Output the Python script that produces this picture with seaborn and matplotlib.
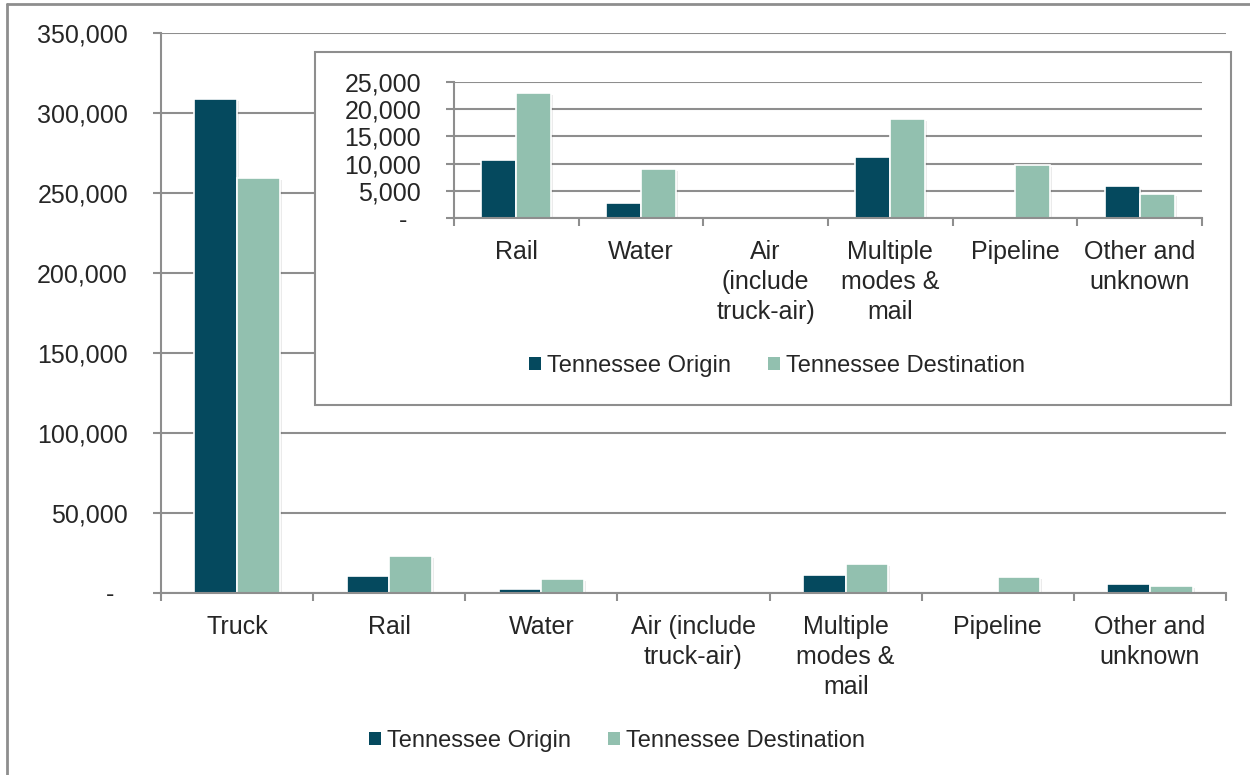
import matplotlib
matplotlib.use("Agg")
import matplotlib.pyplot as plt
import matplotlib.patheffects as pe
from matplotlib.lines import Line2D
from matplotlib.patches import Rectangle, Patch
from matplotlib.ticker import FuncFormatter, MultipleLocator
import pandas as pd
import seaborn as sns

# Freight tonnage by mode (thousand tons)
modes = ["Truck", "Rail", "Water", "Air", "Multiple", "Pipeline", "Other"]
main_labels = ["Truck", "Rail", "Water", "Air (include\ntruck-air)",
               "Multiple\nmodes &\nmail", "Pipeline", "Other and\nunknown"]
inset_labels = ["Rail", "Water", "Air\n(include\ntruck-air)",
                "Multiple\nmodes &\nmail", "Pipeline", "Other and\nunknown"]
origin_tons = [308500, 10600, 2800, 0, 11200, 0, 5800]
destination_tons = [259200, 23000, 9000, 0, 18200, 9800, 4500]
series_names = ["Tennessee Origin", "Tennessee Destination"]
colors = ["#05495E", "#92C0AF"]
grid_gray = "#8E8E8E"

sns.set_theme(style="white")
plt.rcParams["font.family"] = ["Liberation Sans", "DejaVu Sans"]

df = pd.DataFrame({
    "mode": modes * 2,
    "tons": origin_tons + destination_tons,
    "series": [series_names[0]] * len(modes) + [series_names[1]] * len(modes),
})
df_inset = df[df["mode"] != "Truck"]

fig = plt.figure(figsize=(12.5, 7.75), dpi=100)
fig.patch.set_facecolor("white")

W, H = 1250.0, 775.0
TICK_FS = 18
LEGEND_FS = 17


def fig_rect(x0, y0, x1, y1):
    return [x0 / W, 1 - y1 / H, (x1 - x0) / W, (y1 - y0) / H]


shadow = [pe.SimplePatchShadow(offset=(1.5, -1.5), shadow_rgbFace="#000000", alpha=0.08),
          pe.Normal()]


def style_axes(ax, ymax, step, labels):
    ax.set_ylim(0, ymax)
    ax.yaxis.set_major_locator(MultipleLocator(step))
    ax.yaxis.set_major_formatter(
        FuncFormatter(lambda v, p: "{:,.0f}".format(v) if v else "-  "))
    ax.set_xticks(range(len(labels)))
    ax.set_xticklabels(labels, fontsize=TICK_FS, linespacing=1.32, va="top")
    ax.tick_params(axis="y", labelsize=TICK_FS, length=8 * 0.72, width=1.5,
                   color=grid_gray, pad=18, left=True)
    ax.set_xlim(-0.5, len(labels) - 0.5)
    # category ticks sit on the boundaries between groups
    ax.set_xticks([i - 0.5 for i in range(len(labels) + 1)], minor=True)
    ax.tick_params(axis="x", which="major", length=0, pad=16, bottom=True)
    ax.tick_params(axis="x", which="minor", length=8 * 0.72, width=1.5,
                   color=grid_gray, bottom=True)
    ax.grid(axis="y", color=grid_gray, linewidth=1.5)
    ax.grid(axis="x", visible=False)
    ax.set_axisbelow(True)
    for s in ["top", "right"]:
        ax.spines[s].set_visible(False)
    for s in ["left", "bottom"]:
        ax.spines[s].set_color(grid_gray)
        ax.spines[s].set_linewidth(1.5)
    ax.set_xlabel("")
    ax.set_ylabel("")
    for bar in ax.patches:
        bar.set_path_effects(shadow)


# Main chart
ax = fig.add_axes(fig_rect(161, 33, 1226, 593))
ax.set_zorder(0)
sns.barplot(data=df, x="mode", y="tons", hue="series", hue_order=series_names,
            palette=colors, width=0.56, edgecolor="white", linewidth=1.2,
            saturation=1, legend=False, ax=ax)
style_axes(ax, 350000, 50000, main_labels)

# Inset box
box = Rectangle((315 / W, 1 - 405 / H), 916 / W, 353 / H, transform=fig.transFigure,
                facecolor="white", edgecolor=grid_gray, linewidth=1.5, zorder=1)
fig.add_artist(box)

# Inset chart without trucks
axi = fig.add_axes(fig_rect(454, 82, 1202, 218))
axi.set_zorder(2)
axi.patch.set_alpha(0)
sns.barplot(data=df_inset, x="mode", y="tons", hue="series", hue_order=series_names,
            palette=colors, width=0.56, edgecolor="white", linewidth=1.2,
            saturation=1, legend=False, ax=axi)
style_axes(axi, 25000, 5000, inset_labels)

handles = [Patch(facecolor=c, edgecolor="none") for c in colors]
legend_kw = dict(ncol=2, frameon=False, fontsize=LEGEND_FS, handlelength=0.5,
                 handleheight=0.5, handletextpad=0.25, columnspacing=1.6)

leg_i = fig.legend(handles, series_names, loc="center",
                   bbox_to_anchor=(777 / W, 1 - 366 / H), **legend_kw)
leg_i.set_zorder(3)
fig.legend(handles, series_names, loc="center",
           bbox_to_anchor=(617 / W, 1 - 741 / H), **legend_kw)

# Outer chart border (left and top edges)
fig.add_artist(Line2D([7 / W, 7 / W], [0, 1 - 4 / H], transform=fig.transFigure,
                      color=grid_gray, linewidth=2))
fig.add_artist(Line2D([7 / W, 1], [1 - 4 / H, 1 - 4 / H], transform=fig.transFigure,
                      color=grid_gray, linewidth=2))

fig.savefig("out.png", dpi=100, facecolor="white")
